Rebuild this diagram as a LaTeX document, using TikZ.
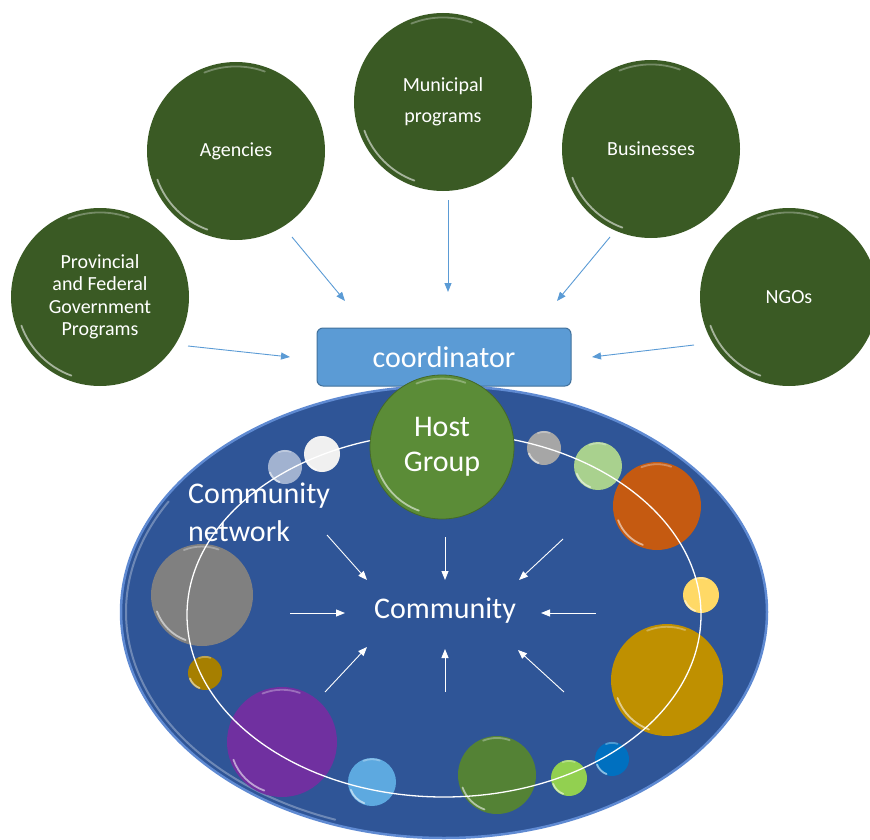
\documentclass[tikz,border=0pt]{standalone}
\usepackage{fontspec}
\setmainfont{Carlito}
\usetikzlibrary{arrows.meta,shapes.geometric}

\definecolor{leafgreen}{HTML}{3A5A24}
\definecolor{hostgreen}{HTML}{5B8C37}
\definecolor{poolblue}{HTML}{2F5597}
\definecolor{rimblue}{HTML}{5F8AD2}
\definecolor{coordfill}{HTML}{5B9BD5}
\definecolor{coordedge}{HTML}{41719C}
\definecolor{feedblue}{HTML}{5B9BD5}
\definecolor{ochrec}{HTML}{A67F00}
\definecolor{plumc}{HTML}{7030A0}
\definecolor{skyc}{HTML}{5DA9E0}
\definecolor{mossc}{HTML}{548235}
\definecolor{silverc}{HTML}{A6A6A6}
\definecolor{mintc}{HTML}{A9D18E}
\definecolor{rustc}{HTML}{C55A11}
\definecolor{butterc}{HTML}{FFD966}
\definecolor{amberc}{HTML}{BF9000}
\definecolor{cobaltc}{HTML}{0070C0}
\definecolor{limec}{HTML}{92D050}

\tikzset{
  partner/.style={circle, fill=leafgreen, minimum size=178pt, inner sep=0pt,
    text=white, align=center, font=\fontsize{20}{22.5}\selectfont},
  bubble/.style={circle, fill=#1, inner sep=0pt},
  feed/.style={draw=feedblue, line width=0.9pt, -{Triangle[length=9pt,width=7pt]}},
  pull/.style={draw=white, line width=0.9pt, -{Triangle[length=9pt,width=7pt]}},
  glintline/.style={white, line width=1.8pt, line cap=round, opacity=.55},
  bigtext/.style={text=white, font=\fontsize{30}{36}\selectfont},
}

% glossy rim highlights on a round node: #1 node name, #2 radius (pt)
\newcommand\glint[2]{%
  \draw[glintline] ([shift={(200:#2pt-0.06*#2pt)}]#1.center)
    arc[start angle=200, end angle=250, radius=#2pt-0.06*#2pt];
  \draw[glintline, opacity=.3] ([shift={(70:#2pt-0.05*#2pt)}]#1.center)
    arc[start angle=70, end angle=112, radius=#2pt-0.05*#2pt];
}
% a coloured bubble: x, y, radius, colour, name
\newcommand\drop[5]{%
  \node[bubble=#4, minimum size=2*#3pt] (#5) at (#1,#2) {};
  \glint{#5}{#3}%
}

\begin{document}
\begin{tikzpicture}[x=1pt, y=-1pt]
\useasboundingbox (0,0) rectangle (870,840);

% partner organisations
\node[partner] (prov) at (100,297) {Provincial\\and Federal\\Government\\Programs};
\node[partner] (agen) at (236,151) {Agencies};
\node[partner, font=\fontsize{20}{31}\selectfont] (muni) at (443,102) {Municipal\\programs};
\node[partner] (busi) at (651,149) {Businesses};
\node[partner] (ngos) at (789,297) {NGOs};
\foreach \n in {prov,agen,muni,busi,ngos} {\glint{\n}{89}}

% feeds into the coordinator
\coordinate (provT) at (188,346); \coordinate (provH) at (290,357);
\coordinate (agenT) at (292,237); \coordinate (agenH) at (345,301);
\coordinate (muniT) at (448,200); \coordinate (muniH) at (448,292);
\coordinate (busiT) at (610,237); \coordinate (busiH) at (557,301);
\coordinate (ngosT) at (694,345); \coordinate (ngosH) at (592,357);
\foreach \n in {prov,agen,muni,busi,ngos} {\draw[feed] (\n T) -- (\n H);}

% community pool
\node[ellipse, fill=poolblue, draw=rimblue, line width=2.5pt,
      minimum width=646pt, minimum height=452pt, inner sep=0pt] (pool) at (444,612) {};
\draw[white, opacity=.3, line width=2pt, line cap=round]
  ([shift={(150:318pt and 221pt)}]pool.center) arc[start angle=150, end angle=250, x radius=318pt, y radius=221pt];

% member groups
\drop{285}{467}{17}{white!55!poolblue}{mist}
\drop{322}{454}{18}{white!88!gray}{pearl}
\drop{202}{595}{51}{gray}{slate}
\drop{205}{673}{17}{ochrec}{ochre}
\drop{282}{742}{55}{plumc}{plum}
\drop{372}{782}{24}{skyc}{sky}
\drop{497}{775}{39}{mossc}{moss}
\drop{544}{448}{17}{silverc}{silver}
\drop{598}{466}{24}{mintc}{mint}
\drop{657}{506}{44}{rustc}{rust}
\drop{701}{595}{18}{butterc}{butter}
\drop{667}{680}{56}{amberc}{amber}
\drop{612}{759}{17}{cobaltc}{cobalt}
\drop{569}{778}{18}{limec}{lime}

% network ring
\node[ellipse, draw=white, line width=1.3pt, minimum width=514pt,
      minimum height=364pt, inner sep=0pt] (ring) at (444,615) {};

% coordinator and host group
\node[draw=coordedge, fill=coordfill, rounded corners=6pt, line width=1pt,
      minimum width=254pt, minimum height=58pt, bigtext] (coord) at (444,357) {coordinator};
\node[circle, fill=hostgreen, draw=hostgreen!75!black, line width=0.8pt,
      minimum size=144pt, inner sep=0pt, align=center,
      text=white, font=\fontsize{30}{35}\selectfont] (host) at (442,447) {Host\\Group};
\glint{host}{72}

% labels inside the pool
\node[bigtext, align=left, anchor=west, inner sep=0pt,
      font=\fontsize{30}{38}\selectfont] (net) at (188,512) {Community\\network};
\node[bigtext, inner sep=0pt] (comm) at (445,611) {Community};

% everything converges on the community
\coordinate (p1T) at (327,535); \coordinate (p1H) at (367,580);
\coordinate (p2T) at (445,537); \coordinate (p2H) at (445,580);
\coordinate (p3T) at (563,539); \coordinate (p3H) at (519,580);
\coordinate (p4T) at (290,613); \coordinate (p4H) at (345,613);
\coordinate (p5T) at (596,613); \coordinate (p5H) at (541,613);
\coordinate (p6T) at (325,692); \coordinate (p6H) at (367,647);
\coordinate (p7T) at (445,692); \coordinate (p7H) at (445,649);
\coordinate (p8T) at (564,692); \coordinate (p8H) at (518,650);
\foreach \i in {1,...,8} {\draw[pull] (p\i T) -- (p\i H);}
\end{tikzpicture}
\end{document}
